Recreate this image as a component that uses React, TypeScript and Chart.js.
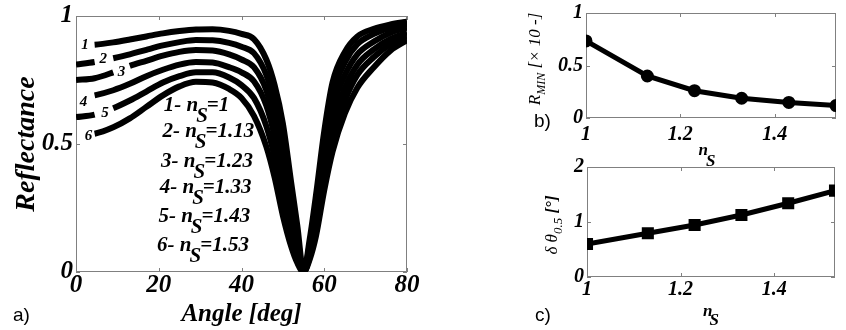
import React, { useEffect, useRef } from "react";
import { Chart, registerables } from "chart.js";
Chart.register(...registerables);

// ---------- data ----------
const angles = [0, 4.5, 9, 13, 17, 21, 25, 29, 33, 37, 40, 43, 46, 48, 50, 52, 53.5, 55, 56.5, 58, 60, 62, 65, 68, 72, 76, 80];
const refl1 = [0.885, 0.888, 0.897, 0.908, 0.92, 0.932, 0.941, 0.947, 0.948, 0.942, 0.93, 0.91, 0.83, 0.73, 0.58, 0.35, 0.18, 0.0, 0.13, 0.30, 0.55, 0.74, 0.86, 0.92, 0.95, 0.967, 0.978];
const refl2 = [0.81, 0.82, 0.835, 0.85, 0.868, 0.885, 0.898, 0.906, 0.905, 0.895, 0.88, 0.855, 0.77, 0.66, 0.5, 0.29, 0.14, 0.0, 0.11, 0.26, 0.5, 0.69, 0.82, 0.89, 0.93, 0.955, 0.968];
const refl3 = [0.75, 0.757, 0.78, 0.805, 0.825, 0.845, 0.86, 0.867, 0.865, 0.85, 0.83, 0.8, 0.71, 0.59, 0.42, 0.23, 0.1, 0.0, 0.09, 0.22, 0.45, 0.64, 0.77, 0.85, 0.9, 0.935, 0.955];
const refl4 = [0.68, 0.69, 0.71, 0.735, 0.765, 0.79, 0.81, 0.82, 0.818, 0.8, 0.78, 0.745, 0.65, 0.53, 0.36, 0.18, 0.07, 0.0, 0.07, 0.19, 0.41, 0.58, 0.72, 0.81, 0.87, 0.91, 0.935];
const refl5 = [0.605, 0.615, 0.64, 0.67, 0.705, 0.74, 0.765, 0.78, 0.78, 0.76, 0.73, 0.68, 0.57, 0.45, 0.29, 0.14, 0.05, 0.0, 0.06, 0.16, 0.36, 0.52, 0.67, 0.77, 0.84, 0.89, 0.92];
const refl6 = [0.535, 0.54, 0.565, 0.6, 0.645, 0.69, 0.725, 0.743, 0.74, 0.715, 0.68, 0.61, 0.49, 0.37, 0.22, 0.1, 0.035, 0.0, 0.05, 0.14, 0.32, 0.47, 0.62, 0.72, 0.8, 0.865, 0.905];
const curveNames = ["1", "2", "3", "4", "5", "6"];
const curveLabelAngle = [2.2, 6.6, 11, 1.8, 7, 3];
const curveLabelR = [0.887, 0.83, 0.78, 0.665, 0.62, 0.53];
const gapStart = [0, 4.5, 9, 0, 4.5, 0];
const gapEnd = [4.5, 9, 13, 4.5, 9, 4.5];
const legendValues = ["1", "1.13", "1.23", "1.33", "1.43", "1.53"];
const legendR = [0.652, 0.547, 0.43, 0.328, 0.215, 0.105];
const angleTicks = [0, 20, 40, 60, 80];
const reflTicks = [0, 0.5, 1];

const nS = [1, 1.13, 1.23, 1.33, 1.43, 1.53];
const rMin = [0.734, 0.4, 0.26, 0.188, 0.148, 0.118];
const dTheta = [0.6, 0.794, 0.945, 1.127, 1.34, 1.57];
const nTicks = [1, 1.2, 1.4];
const rMinTicks = [0, 0.5, 1];
const dThetaTicks = [0, 1, 2];

// ---------- helpers ----------
const SERIF = "'Liberation Serif', 'Times New Roman', Times, serif";
const SANS = "'Liberation Sans', Arial, Helvetica, sans-serif";

type Part = { t: string; size: number; dy?: number; dx?: number; style?: string; weight?: string; family?: string };

function drawRich(ctx: CanvasRenderingContext2D, parts: Part[], x: number, y: number, rot: number, align: "left" | "center") {
  ctx.save();
  ctx.translate(x, y);
  ctx.rotate(rot);
  const fonts = parts.map((p) => `${p.style || "normal"} ${p.weight || "normal"} ${p.size}px ${p.family || SERIF}`);
  let total = 0;
  const widths = parts.map((p, i) => {
    ctx.font = fonts[i];
    const w = ctx.measureText(p.t).width + (p.dx || 0);
    total += w;
    return w;
  });
  let cx = align === "center" ? -total / 2 : 0;
  ctx.textBaseline = "middle";
  ctx.textAlign = "left";
  ctx.fillStyle = "#000";
  parts.forEach((p, i) => {
    ctx.font = fonts[i];
    ctx.fillText(p.t, cx + (p.dx || 0), p.dy || 0);
    cx += widths[i];
  });
  ctx.restore();
}

const framePlugin = {
  id: "frame",
  beforeDatasetsDraw(chart: any) {
    const { ctx, chartArea, scales } = chart;
    const { left, right, top, bottom } = chartArea;
    ctx.save();
    ctx.strokeStyle = "#808080";
    ctx.lineWidth = 1;
    ctx.strokeRect(left + 0.5, top + 0.5, right - left - 1, bottom - top - 1);
    const tl = 4;
    ctx.beginPath();
    scales.x.ticks.forEach((t: any) => {
      const px = Math.round(scales.x.getPixelForValue(t.value)) + 0.5;
      ctx.moveTo(px, bottom);
      ctx.lineTo(px, bottom - tl);
      ctx.moveTo(px, top);
      ctx.lineTo(px, top + tl);
    });
    scales.y.ticks.forEach((t: any) => {
      const py = Math.round(scales.y.getPixelForValue(t.value)) + 0.5;
      ctx.moveTo(left, py);
      ctx.lineTo(left + tl, py);
      ctx.moveTo(right, py);
      ctx.lineTo(right - tl, py);
    });
    ctx.stroke();
    ctx.restore();
  },
};

const tickFont = (size: number) => ({ family: SERIF, size, style: "italic" as const, weight: "bold" as const, lineHeight: 1 });

function axisOpts(min: number, max: number, ticks: number[], size: number, pad: number, fit: (s: any) => void) {
  return {
    type: "linear" as const,
    min,
    max,
    afterBuildTicks: (s: any) => {
      s.ticks = ticks.map((v) => ({ value: v }));
    },
    afterFit: fit,
    grid: { display: false, drawTicks: false },
    border: { display: false },
    ticks: {
      font: tickFont(size),
      color: "#000",
      padding: pad,
      maxRotation: 0,
      autoSkip: false,
      callback: (v: any) => String(Math.round(Number(v) * 100) / 100),
    },
  };
}

export default function App() {
  const leftRef = useRef<HTMLCanvasElement>(null);
  const topRef = useRef<HTMLCanvasElement>(null);
  const botRef = useRef<HTMLCanvasElement>(null);

  useEffect(() => {
    const curves = [refl1, refl2, refl3, refl4, refl5, refl6];

    const leftText = {
      id: "leftText",
      afterDraw(chart: any) {
        const { ctx, scales } = chart;
        const xs = scales.x, ys = scales.y;
        curveNames.forEach((nm, i) => {
          drawRich(ctx, [{ t: nm, size: 15, style: "italic", weight: "bold" }], xs.getPixelForValue(curveLabelAngle[i]), ys.getPixelForValue(curveLabelR[i]), 0, "center");
        });
        legendValues.forEach((v, i) => {
          drawRich(
            ctx,
            [
              { t: `${i + 1}- n`, size: 21, style: "italic", weight: "bold" },
              { t: "S", size: 21, dy: 11, dx: -2, style: "italic", weight: "bold" },
              { t: `=${v}`, size: 21, style: "italic", weight: "bold", dx: -1 },
            ],
            xs.getPixelForValue(21.2 - i * 0.32),
            ys.getPixelForValue(legendR[i]),
            0,
            "left"
          );
        });
        drawRich(ctx, [{ t: "Reflectance", size: 28, style: "italic", weight: "bold" }], 27, (chart.chartArea.top + chart.chartArea.bottom) / 2, -Math.PI / 2, "center");
        drawRich(ctx, [{ t: "Angle [deg]", size: 25, style: "italic", weight: "bold" }], (chart.chartArea.left + chart.chartArea.right) / 2, 315, 0, "center");
        drawRich(ctx, [{ t: "a)", size: 19, family: SANS }], 13, 316, 0, "left");
      },
    };

    const left = new Chart(leftRef.current!, {
      type: "line",
      data: {
        datasets: curves.map((vals, i) => ({
          data: angles.map((a, j) => ({ x: a, y: vals[j] })),
          borderColor: "#000",
          borderWidth: 6,
          pointRadius: 0,
          cubicInterpolationMode: "monotone" as const,
          segment: {
            borderColor: (c: any) => (c.p0.parsed.x >= gapStart[i] && c.p1.parsed.x <= gapEnd[i] ? "rgba(0,0,0,0)" : "#000"),
          },
        })),
      },
      options: {
        animation: false,
        responsive: false,
        devicePixelRatio: 1,
        layout: { padding: { left: 0, top: 16, right: 439, bottom: 0 } },
        plugins: { legend: { display: false }, tooltip: { enabled: false } },
        scales: {
          x: axisOpts(0, 80, angleTicks, 25, 1, (s: any) => { s.height = 58; }),
          y: axisOpts(0, 1, reflTicks, 25, 3, (s: any) => { s.width = 76; }),
        },
      } as any,
      plugins: [framePlugin, leftText],
    });

    const topText = {
      id: "topText",
      afterDraw(chart: any) {
        const { ctx } = chart;
        drawRich(
          ctx,
          [
            { t: "R", size: 17, style: "italic" },
            { t: "MIN", size: 12, dy: 6, style: "italic" },
            { t: " [× 10 -]", size: 17, style: "italic" },
          ],
          536,
          59,
          -Math.PI / 2,
          "center"
        );
        drawRich(ctx, [{ t: "n", size: 17, style: "italic", weight: "bold" }, { t: "S", size: 17, dy: 11, dx: -2, style: "italic", weight: "bold" }], 707, 151, 0, "center");
        drawRich(ctx, [{ t: "b)", size: 19, family: SANS }], 534, 122, 0, "left");
      },
    };

    const top = new Chart(topRef.current!, {
      type: "line",
      data: {
        datasets: [
          {
            data: nS.map((n, j) => ({ x: n, y: rMin[j] })),
            borderColor: "#000",
            backgroundColor: "#000",
            borderWidth: 5,
            pointRadius: 4,
            pointStyle: "circle",
            tension: 0,
          },
        ],
      },
      options: {
        animation: false,
        responsive: false,
        devicePixelRatio: 1,
        layout: { padding: { left: 546, top: 8, right: 10, bottom: 182 } },
        plugins: { legend: { display: false }, tooltip: { enabled: false } },
        scales: {
          x: axisOpts(1, 1.53, nTicks, 20, 7, (s: any) => { s.height = 30; }),
          y: axisOpts(0, 1, rMinTicks, 20, 3, (s: any) => { s.width = 40; }),
        },
      } as any,
      plugins: [framePlugin, topText],
    });

    const botText = {
      id: "botText",
      afterDraw(chart: any) {
        const { ctx } = chart;
        drawRich(
          ctx,
          [
            { t: "δ θ", size: 17, style: "italic" },
            { t: "0.5", size: 13, dy: 6, style: "italic" },
            { t: " [°]", size: 17, style: "italic", weight: "bold" },
          ],
          553,
          225,
          -Math.PI / 2,
          "center"
        );
        drawRich(ctx, [{ t: "n", size: 17, style: "italic", weight: "bold" }, { t: "S", size: 17, dy: 9, dx: -3, style: "italic", weight: "bold" }], 711, 312, 0, "center");
        drawRich(ctx, [{ t: "c)", size: 19, family: SANS }], 535, 316, 0, "left");
      },
    };

    const bot = new Chart(botRef.current!, {
      type: "line",
      data: {
        datasets: [
          {
            data: nS.map((n, j) => ({ x: n, y: dTheta[j] })),
            borderColor: "#000",
            backgroundColor: "#000",
            borderWidth: 5,
            pointRadius: 5,
            pointStyle: "rect",
            tension: 0,
          },
        ],
      },
      options: {
        animation: false,
        responsive: false,
        devicePixelRatio: 1,
        layout: { padding: { left: 547, top: 167, right: 11, bottom: 23 } },
        plugins: { legend: { display: false }, tooltip: { enabled: false } },
        scales: {
          x: axisOpts(1, 1.53, nTicks, 20, 3, (s: any) => { s.height = 30; }),
          y: axisOpts(0, 2, dThetaTicks, 20, 3, (s: any) => { s.width = 40; }),
        },
      } as any,
      plugins: [framePlugin, botText],
    });

    return () => {
      left.destroy();
      top.destroy();
      bot.destroy();
    };
  }, []);

  const cs: React.CSSProperties = { position: "absolute", left: 0, top: 0, width: 846, height: 330 };
  return (
    <div style={{ position: "fixed", left: 0, top: 0, width: 846, height: 330, background: "#fff" }}>
      <canvas ref={leftRef} width={846} height={330} style={cs} />
      <canvas ref={topRef} width={846} height={330} style={cs} />
      <canvas ref={botRef} width={846} height={330} style={cs} />
    </div>
  );
}
